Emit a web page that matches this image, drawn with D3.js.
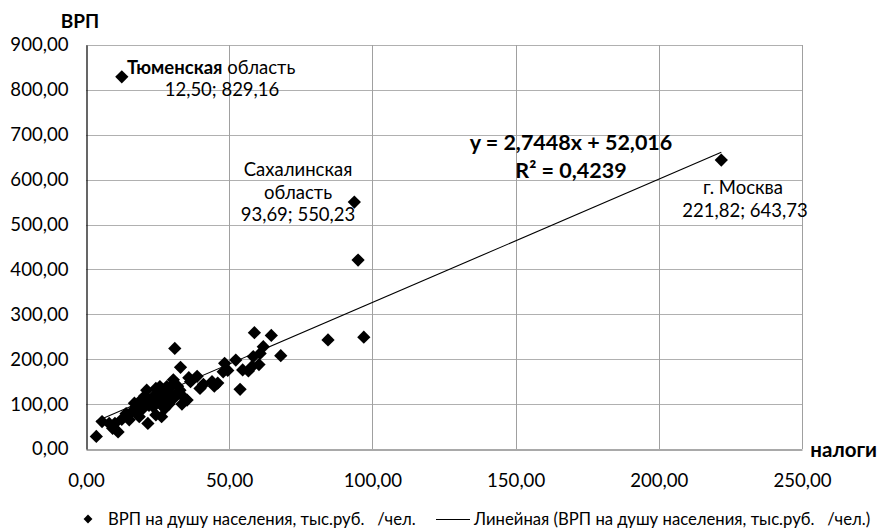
<!DOCTYPE html>
<html><head><meta charset="utf-8">
<script src="https://cdn.jsdelivr.net/npm/d3@7"></script>
<style>
body{margin:0;background:#fff;}
svg text{font-family:Lato,"Open Sans",sans-serif;fill:#000;}
</style></head>
<body><svg id="c" width="877" height="529"></svg>
<script>
// Data: [налоги (x), ВРП (y)] per capita
const taxes = [12.50,93.69,221.82,95.0,97.0,84.5,58.8,64.7,68.0,61.9,60.8,60.4,58.4,56.7,54.7,53.8,52.3,48.4,47.9,
 31.0,33.0,38.8,35.9,41.0,44.0,46.0,44.8,39.8,30.5,28.2,25.8,21.2,24.4,32.8,29.5,31.7,34.0,35.3,27.0,25.8,30.5,28.2,
 24.7,22.3,19.2,26.8,23.3,16.9,23.5,20.0,18.9,17.5,17.1,16.0,14.0,17.7,18.6,14.2,26.4,24.4,15.1,21.6,10.1,8.1,5.6,9.3,
 11.2,3.6,22.0,27.5,29.0,33.5,20.5,26.0,18.0,12.5,30.0,36.5,58.0,49.5,20.0,24.0,28.0,32.0,26.0];
const grp = [829.16,550.23,643.73,421,249,243,259,253,208,228,213,188,206,174,176,133,198,191,172,
 224,182,162,159,144,150,147,140,135,154,139,139,131,135,131,124,122,116,109,124,116,112,109,
 109,109,109,105,102,102,94,91,94,94,88,83,79,80,72,72,72,76,65,57,57,57,61,46,
 38,28,97,90,100,100,118,128,85,66,142,150,184,175,105,120,130,140,100];
const xTicks = [0,50,100,150,200,250];
const yTicks = [0,100,200,300,400,500,600,700,800,900];
const trendSlope = 2.7448, trendIntercept = 52.016;

const svg = d3.select("#c");
const L=86, R=802, T=45, B=449;
const x = d3.scaleLinear().domain([0,250]).range([L,R]);
const y = d3.scaleLinear().domain([0,900]).range([B,T]);
const fmt = d => d3.format(".2f")(d).replace(".", ",");

// grid
svg.append("g").selectAll("line").data(yTicks.filter(d=>d>0)).join("line")
  .attr("x1",L).attr("x2",R).attr("y1",d=>Math.round(y(d))+0.5).attr("y2",d=>Math.round(y(d))+0.5)
  .attr("stroke","#b0b0b0").attr("stroke-width",1);
svg.append("g").selectAll("line").data(xTicks.filter(d=>d>0)).join("line")
  .attr("y1",T).attr("y2",B).attr("x1",d=>Math.round(x(d))+0.5).attr("x2",d=>Math.round(x(d))+0.5)
  .attr("stroke","#a0a0a0").attr("stroke-width",1);

// axes
const xa = svg.append("g").attr("transform",`translate(0,${B+0.5})`)
  .call(d3.axisBottom(x).tickValues(xTicks).tickFormat(fmt).tickSize(0).tickPadding(24));
xa.select(".domain").attr("stroke","#8c8c8c").attr("stroke-width",1.5);
xa.selectAll("text").style("font-size","18.6px");
const ya = svg.append("g").attr("transform",`translate(${L+0.5},0)`)
  .call(d3.axisLeft(y).tickValues(yTicks).tickFormat(fmt).tickSize(0).tickPadding(18));
ya.select(".domain").attr("stroke","#000").attr("stroke-width",1.2);
ya.selectAll("text").style("font-size","18.6px");

// trendline
const xmin = d3.min(taxes), xmax = d3.max(taxes);
svg.append("line")
  .attr("x1",x(xmin)).attr("y1",y(trendSlope*xmin+trendIntercept))
  .attr("x2",x(xmax)).attr("y2",y(trendSlope*xmax+trendIntercept))
  .attr("stroke","#000").attr("stroke-width",1.1);

// points
const sym = d3.symbol().type(d3.symbolDiamond2).size(112);
svg.append("g").selectAll("path").data(taxes.map((t,i)=>[t,grp[i]])).join("path")
  .attr("d",sym).attr("transform",d=>`translate(${x(d[0])},${y(d[1])})`)
  .attr("fill","#000");

// axis titles
svg.append("text").attr("x",80).attr("y",28).attr("text-anchor","middle")
  .style("font-size","19px").style("font-weight","bold").text("ВРП");
svg.append("text").attr("x",877).attr("y",457).attr("text-anchor","end")
  .style("font-size","20.5px").style("font-weight","bold").text("налоги");

// data labels
const t1 = svg.append("text").attr("x",127).attr("y",74).style("font-size","18.5px");
t1.append("tspan").style("font-weight","bold").text("Тюменская");
t1.append("tspan").text(" область");
svg.append("text").attr("x",222).attr("y",96).attr("text-anchor","middle")
  .style("font-size","18.5px").text("12,50; 829,16");
["Сахалинская","область","93,69; 550,23"].forEach((s,i)=>svg.append("text").attr("x",298).attr("y",176+i*22.5)
  .attr("text-anchor","middle").style("font-size","18.5px").text(s));
[["г. Москва",743],["221,82; 643,73",745]].forEach((s,i)=>svg.append("text").attr("x",s[1]).attr("y",194+i*22.5)
  .attr("text-anchor","middle").style("font-size","18.5px").text(s[0]));

// equation
svg.append("text").attr("x",571).attr("y",150).attr("text-anchor","middle")
  .style("font-size","21.5px").style("font-weight","bold").text("y = 2,7448x + 52,016");
svg.append("text").attr("x",571).attr("y",178).attr("text-anchor","middle")
  .style("font-size","21.5px").style("font-weight","bold").text("R² = 0,4239");

// legend
const lg = svg.append("g").attr("transform","translate(0,519)");
lg.append("path").attr("d",d3.symbol().type(d3.symbolDiamond2).size(50)).attr("transform","translate(88,0)").attr("fill","#000");
lg.append("text").attr("x",108).attr("y",5.5).style("font-size","16.7px").attr("xml:space","preserve").text("ВРП на душу населения, тыс.руб.   /чел.");
lg.append("line").attr("x1",436).attr("x2",470).attr("y1",0.5).attr("y2",0.5).attr("stroke","#000");
lg.append("text").attr("x",474).attr("y",5.5).style("font-size","16.7px").attr("xml:space","preserve").text("Линейная (ВРП на душу населения, тыс.руб.   /чел.)");
</script></body></html>
